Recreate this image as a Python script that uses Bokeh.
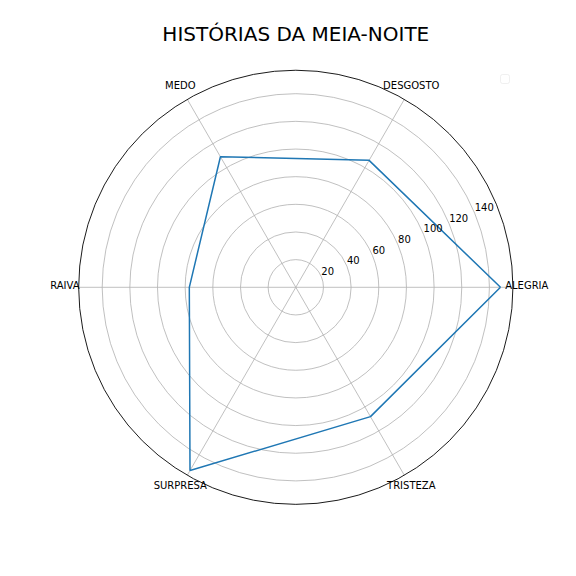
import numpy as np
from bokeh.plotting import figure
from bokeh.models import ColumnDataSource, BoxAnnotation, Range1d
from bokeh.core.properties import value
from bokeh.embed import file_html
from bokeh.resources import INLINE

title = "HISTÓRIAS DA MEIA-NOITE"
categories = ["ALEGRIA", "DESGOSTO", "MEDO", "RAIVA", "SURPRESA", "TRISTEZA"]
values = [148, 106, 109, 77, 153, 108]
radial_ticks = [20, 40, 60, 80, 100, 120, 140]
radial_tick_labels = ["20", "40", "60", "80", "100", "120", "140"]
r_max = 157
label_r = 167
tick_angle = np.deg2rad(22.5)

FONT = value("DejaVu Sans")

px = 1.383  # pixels per data unit
cx, cy = 295.3, 286.8
W = H = 576

p = figure(width=W, height=H, output_backend="svg", toolbar_location=None,
           x_range=Range1d(-cx / px, (W - cx) / px),
           y_range=Range1d(-(H - cy) / px, cy / px),
           min_border=0, min_border_left=0, min_border_right=0,
           min_border_top=0, min_border_bottom=0)
p.axis.visible = False
p.grid.visible = False
p.outline_line_color = None
p.background_fill_color = "white"
p.border_fill_color = "white"

n = len(categories)
theta = np.arange(n) * 2 * np.pi / n

# grid circles
p.circle(x=[0] * len(radial_ticks), y=[0] * len(radial_ticks), radius=radial_ticks,
         fill_color=None, line_color="#b0b0b0", line_width=0.8)

# spokes
p.segment(x0=[0] * n, y0=[0] * n, x1=r_max * np.cos(theta), y1=r_max * np.sin(theta),
          line_color="#b0b0b0", line_width=0.8)

# outer circle
p.circle(x=[0], y=[0], radius=[r_max], fill_color=None, line_color="black", line_width=0.9)

# data line
vals = np.array(values, dtype=float)
xs = np.append(vals * np.cos(theta), vals[0])
ys = np.append(vals * np.sin(theta), 0.0)
p.line(xs, ys, line_color="#1f77b4", line_width=1.5)

# category labels
lab = ColumnDataSource(dict(x=label_r * np.cos(theta), y=label_r * np.sin(theta), t=categories))
p.text(x="x", y="y", text="t", source=lab, text_font=FONT, text_font_size="10px",
       text_align="center", text_baseline="middle", text_color="black", y_offset=-2)

# radial tick labels
rt = np.array(radial_ticks, dtype=float)
tk = ColumnDataSource(dict(x=rt * np.cos(tick_angle), y=rt * np.sin(tick_angle), t=radial_tick_labels))
p.text(x="x", y="y", text="t", source=tk, text_font=FONT, text_font_size="10px",
       text_align="left", text_baseline="bottom", text_color="black", y_offset=-2)

# title
p.text(x=[0], y=[(cy - 35) / px], text=[title], text_font=FONT, text_font_size="20px",
       text_align="center", text_baseline="middle", text_color="black", y_offset=-2)

# empty legend box
p.add_layout(BoxAnnotation(left=(500 - cx) / px, right=(509 - cx) / px,
                           top=(cy - 74) / px, bottom=(cy - 83) / px,
                           fill_color="white", fill_alpha=0.8, line_color="#cccccc",
                           line_width=1, border_radius=2))

open("out.html", "w").write(file_html(p, INLINE))
